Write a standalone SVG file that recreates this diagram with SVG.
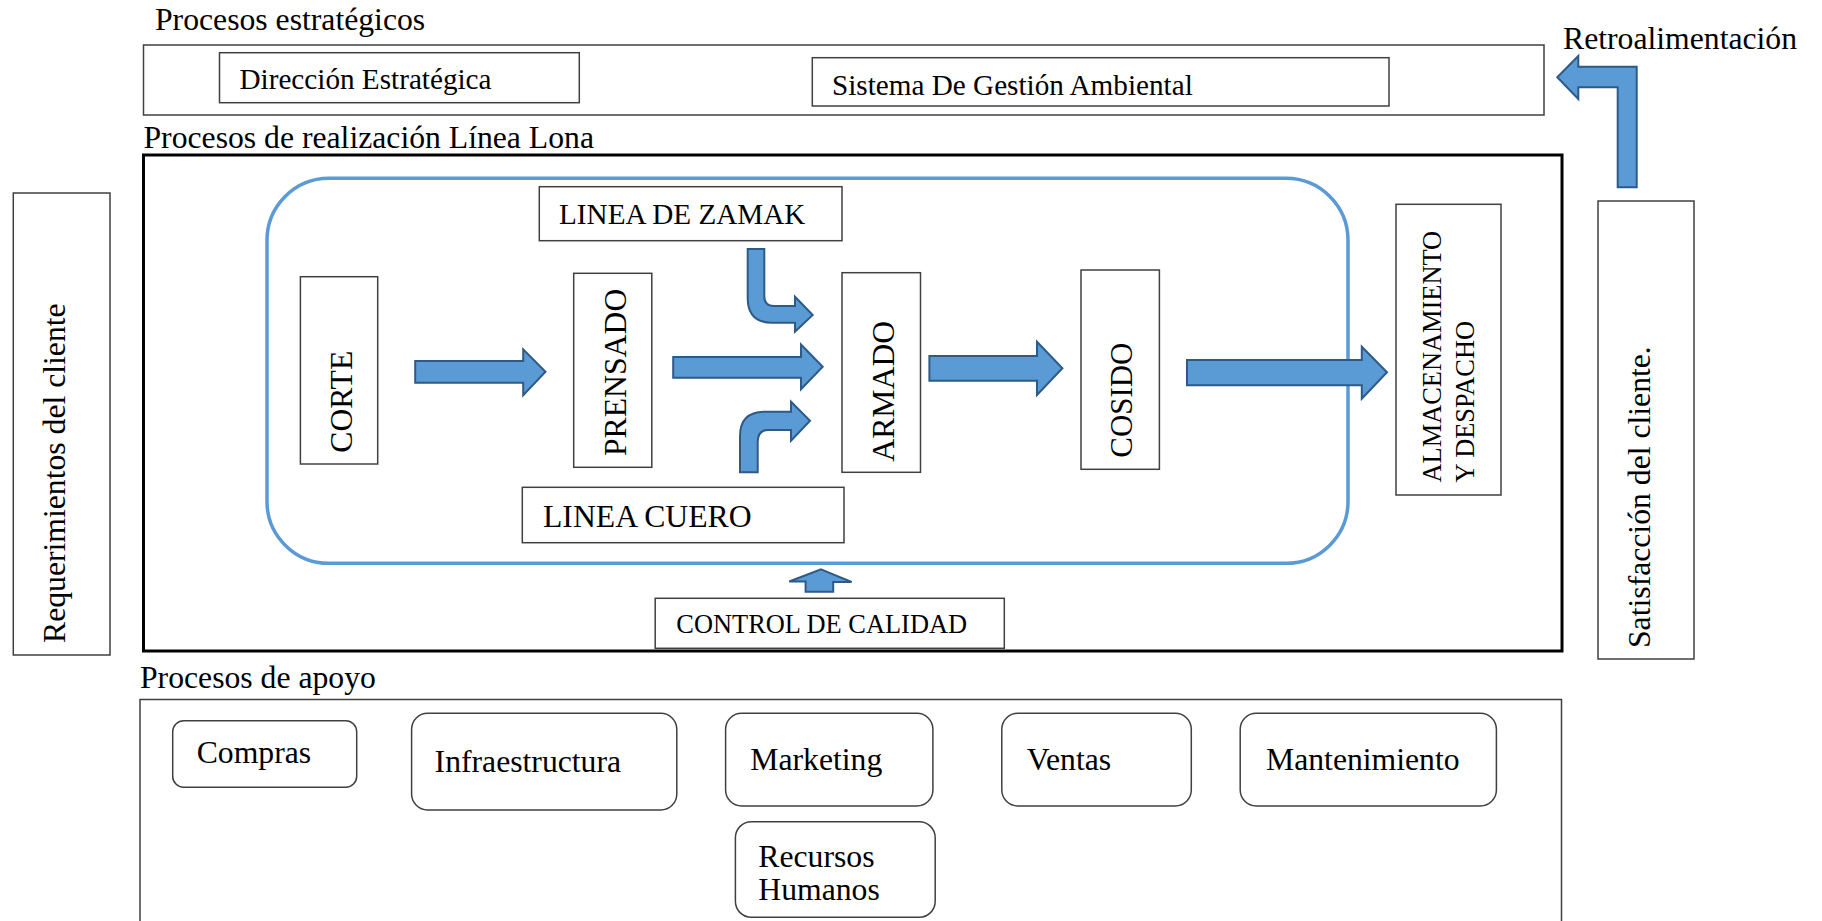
<svg xmlns="http://www.w3.org/2000/svg" width="1822" height="921" viewBox="0 0 1822 921">
<style>
  text { font-family: "Liberation Serif", "Times New Roman", serif; fill: #000; }
  .box { fill: #fff; stroke: #404040; stroke-width: 1.5; }
  .frame { fill: none; stroke: #404040; stroke-width: 1.5; }
  .thick { fill: none; stroke: #000; stroke-width: 3; }
  .blue { fill: none; stroke: #5B9BD5; stroke-width: 3.5; }
  .arrow { fill: #5B9BD5; stroke: #2E5A87; stroke-width: 2; stroke-linejoin: miter; }
  .t32 { font-size: 31.7px; }
  .t29 { font-size: 29.2px; }
  .t26 { font-size: 26.4px; }
</style>
<rect x="0" y="0" width="1822" height="921" fill="#fff"/>

<!-- Section titles and frames -->
<g id="estrategicos">
  <text class="t32" x="155" y="30">Procesos estratégicos</text>
  <rect class="frame" x="143.5" y="45" width="1400.5" height="70"/>
</g>
<g id="direccion">
  <rect class="box" x="219.5" y="52.7" width="359.8" height="50"/>
  <text class="t29" x="239.5" y="89.3">Dirección Estratégica</text>
</g>
<g id="sistema">
  <rect class="box" x="812.3" y="57.7" width="576.7" height="48.3"/>
  <text class="t29" x="832" y="94.5">Sistema De Gestión Ambiental</text>
</g>
<g id="retro">
  <text class="t32" x="1563" y="49.3">Retroalimentación</text>
</g>

<g id="realizacion">
  <text class="t32" x="143.5" y="148.3">Procesos de realización Línea Lona</text>
  <rect class="thick" x="143.5" y="155" width="1418.5" height="496"/>
  <rect class="blue" x="267" y="178.3" width="1081" height="385" rx="62" ry="62"/>
</g>

<g id="requerimientos">
  <rect class="box" x="13.3" y="193" width="96.7" height="462"/>
  <text class="t32" transform="translate(65,643) rotate(-90)">Requerimientos del cliente</text>
</g>
<g id="corte">
  <rect class="box" x="300.4" y="276.7" width="77.3" height="187.3"/>
  <text class="t32" transform="translate(351.8,452.7) rotate(-90)">CORTE</text>
</g>
<g id="prensado">
  <rect class="box" x="573.7" y="273.3" width="78.1" height="194"/>
  <text class="t32" transform="translate(626,456) rotate(-90)">PRENSADO</text>
</g>
<g id="zamak">
  <rect class="box" x="539.3" y="186.7" width="302.7" height="54"/>
  <text class="t29" x="559" y="224">LINEA DE ZAMAK</text>
</g>
<g id="cuero">
  <rect class="box" x="522.3" y="487.3" width="321.7" height="55.4"/>
  <text class="t32" x="543" y="526.7">LINEA CUERO</text>
</g>
<g id="armado">
  <rect class="box" x="842" y="272.7" width="78.5" height="199.6"/>
  <text class="t32" transform="translate(894,461.7) rotate(-90)">ARMADO</text>
</g>
<g id="cosido">
  <rect class="box" x="1081" y="270" width="78.4" height="199.3"/>
  <text class="t32" transform="translate(1132,457.7) rotate(-90)" textLength="115" lengthAdjust="spacingAndGlyphs">COSIDO</text>
</g>
<g id="almacenamiento">
  <rect class="box" x="1396" y="204.3" width="105" height="290.7"/>
  <text class="t26" transform="translate(1441,482.5) rotate(-90)">ALMACENAMIENTO</text>
  <text class="t26" transform="translate(1473.5,482.5) rotate(-90)">Y DESPACHO</text>
</g>
<g id="satisfaccion">
  <rect class="box" x="1598" y="201" width="96" height="458"/>
  <text class="t32" transform="translate(1650,648) rotate(-90)">Satisfacción del cliente.</text>
</g>
<g id="calidad">
  <rect class="box" x="655.2" y="598.3" width="349.1" height="50"/>
  <text class="t26" x="676.3" y="632.7">CONTROL DE CALIDAD</text>
</g>

<!-- Support processes -->
<g id="apoyo">
  <text class="t32" x="140" y="688">Procesos de apoyo</text>
  <rect class="frame" x="140" y="699.5" width="1421.5" height="240"/>
</g>
<g id="compras">
  <rect class="box" x="172.7" y="720.7" width="184" height="66.6" rx="11"/>
  <text class="t32" x="196.7" y="763.3">Compras</text>
</g>
<g id="infraestructura">
  <rect class="box" x="411.6" y="713.3" width="265.2" height="96.7" rx="16"/>
  <text class="t32" x="434.6" y="771.7">Infraestructura</text>
</g>
<g id="marketing">
  <rect class="box" x="725.6" y="713.3" width="207.3" height="92.7" rx="16"/>
  <text class="t32" x="750.3" y="770">Marketing</text>
</g>
<g id="recursos">
  <rect class="box" x="735.4" y="821.7" width="199.8" height="95.6" rx="16"/>
  <text class="t32" x="758.3" y="866.7">Recursos</text>
  <text class="t32" x="758.3" y="900">Humanos</text>
</g>
<g id="ventas">
  <rect class="box" x="1001.8" y="713.3" width="189.5" height="92.7" rx="16"/>
  <text class="t32" x="1026.7" y="770">Ventas</text>
</g>
<g id="mantenimiento">
  <rect class="box" x="1240.2" y="713.3" width="256.2" height="92.7" rx="16"/>
  <text class="t32" x="1266" y="770">Mantenimiento</text>
</g>

<!-- Connectors -->
<g id="connectors">
  <path class="arrow" d="M415.2,361 L523.2,361 L523.2,349.3 L545.5,371.7 L523.2,395.3 L523.2,382.7 L415.2,382.7 Z"/>
  <path class="arrow" d="M673.2,357 L801,357 L801,344.5 L822.7,366.7 L801,389.3 L801,377.7 L673.2,377.7 Z"/>
  <path class="arrow" d="M929.4,356 L1037,356 L1037,341.7 L1062.4,368.3 L1037,395 L1037,380.7 L929.4,380.7 Z"/>
  <path class="arrow" d="M1187,360 L1361.8,360 L1361.8,346.7 L1387,372.3 L1361.8,398.7 L1361.8,385.3 L1187,385.3 Z"/>
  <path class="arrow" d="M747.7,249 L764.3,249 L764.3,296 Q764.3,306 774,306 L795,306 L795,296.7 L812.7,315 L795,331.7 L795,322.7 L772,322.7 Q747.7,322.7 747.7,298 Z"/>
  <path class="arrow" d="M740,472.3 L740,436 Q740,411.7 765,411.7 L791,411.7 L791,401.7 L810,420.7 L791,440.7 L791,430 L768,430 Q757.7,430 757.7,442 L757.7,472.3 Z"/>
  <path class="arrow" d="M821,569.3 L851.6,582 L833.2,582 L833.2,591.7 L805.6,591.7 L805.6,581.5 L789.2,581.5 Z"/>
  <path class="arrow" d="M1557.3,77.3 L1578.3,56 L1578.3,66.7 L1636.7,66.7 L1636.7,187.3 L1617.7,187.3 L1617.7,87.3 L1578.3,87.3 L1578.3,99 Z"/>
</g>
</svg>
